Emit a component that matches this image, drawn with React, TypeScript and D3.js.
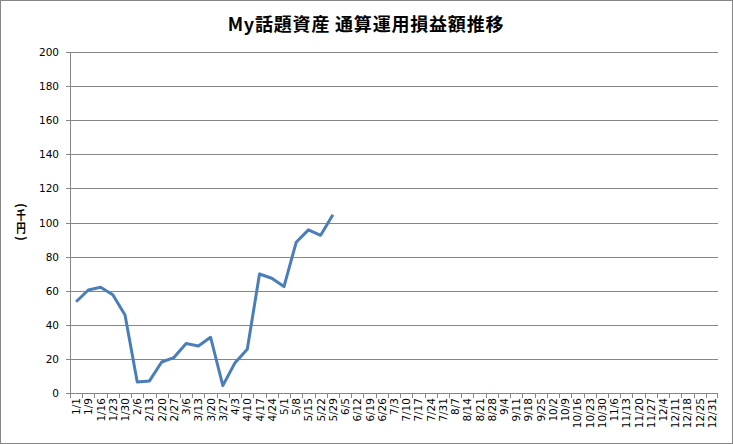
import React from "react";
import * as d3 from "d3";

const title = "My話題資産 通算運用損益額推移";
const yTitleChars = ["(", "千", "円", ")"];
const categories = [
  "1/1", "1/9", "1/16", "1/23", "1/30", "2/6", "2/13", "2/20", "2/27", "3/6", "3/13", "3/20", "3/27",
  "4/3", "4/10", "4/17", "4/24", "5/1", "5/8", "5/15", "5/22", "5/29", "6/5", "6/12", "6/19", "6/26",
  "7/3", "7/10", "7/17", "7/24", "7/31", "8/7", "8/14", "8/21", "8/28", "9/4", "9/11", "9/18", "9/25",
  "10/2", "10/9", "10/16", "10/23", "10/30", "11/6", "11/13", "11/20", "11/27", "12/4", "12/11",
  "12/18", "12/25", "12/31",
];
const values = [
  53.5, 60.4, 62, 57.6, 45.7, 6.5, 7.1, 18.2, 20.8, 29, 27.6, 32.7, 4.3,
  17.8, 25.7, 69.8, 67.3, 62.4, 88.4, 95.7, 92.5, 104.5,
];
const yTicks = [0, 20, 40, 60, 80, 100, 120, 140, 160, 180, 200];

const W = 733;
const H = 444;
const left = 70;
const right = 718;
const top = 52;
const bottom = 393;
const grid = "#868686";
const font = "'DejaVu Sans', Verdana, sans-serif";
const cjk = "'Noto Sans CJK JP', sans-serif";

function YTitle({ tcx }: { tcx: number }) {
  return (
    <g fontFamily={cjk} fontWeight="bold" fontSize={12} fill="#000">
      <text transform={`translate(${tcx},205.5) rotate(90)`} textAnchor="middle" dy="0.35em">
        {yTitleChars[0]}
      </text>
      <text transform={`translate(${tcx},220) scale(0.8,1)`} textAnchor="middle">
        {yTitleChars[1]}
      </text>
      <text transform={`translate(${tcx},232.5) scale(0.8,1)`} textAnchor="middle">
        {yTitleChars[2]}
      </text>
      <text transform={`translate(${tcx},238.5) rotate(90)`} textAnchor="middle" dy="0.35em">
        {yTitleChars[3]}
      </text>
    </g>
  );
}

export default function App() {
  const x = d3.scaleBand<string>().domain(categories).range([left, right]).padding(0);
  const y = d3.scaleLinear().domain([0, 200]).range([bottom, top]);
  const bw = x.bandwidth();
  const line = d3
    .line<number>()
    .x((_, i) => (x(categories[i]) as number) + bw / 2)
    .y((d) => y(d));

  return (
    <div style={{ position: "absolute", left: 0, top: 0 }}>
      <svg width={W} height={H} style={{ display: "block", background: "#fff" }}>
        <rect x={0.5} y={0.5} width={W - 1} height={H - 1} fill="#fff" stroke={grid} strokeWidth={1} />
        <text
          x={366}
          y={31}
          textAnchor="middle"
          fontFamily={cjk}
          fontWeight="bold"
          fontSize={18}
          letterSpacing={0.8}
        >
          {title}
        </text>
        {yTicks.map((t) => (
          <g key={t}>
            {t > 0 && (
              <line x1={left} x2={right} y1={Math.round(y(t)) + 0.5} y2={Math.round(y(t)) + 0.5} stroke={grid} />
            )}
            <line x1={left - 4} x2={left} y1={Math.round(y(t)) + 0.5} y2={Math.round(y(t)) + 0.5} stroke={grid} />
            <text x={59} y={y(t) + 4} textAnchor="end" fontFamily={font} fontSize={10.5} fill="#000">
              {t}
            </text>
          </g>
        ))}
        <line x1={left + 0.5} x2={left + 0.5} y1={top} y2={bottom} stroke={grid} />
        <line x1={left} x2={right} y1={bottom + 0.5} y2={bottom + 0.5} stroke={grid} />
        {categories.map((c, i) => (
          <line
            key={"t" + c}
            x1={Math.round(left + i * bw) + 0.5}
            x2={Math.round(left + i * bw) + 0.5}
            y1={bottom}
            y2={bottom + 5}
            stroke={grid}
          />
        ))}
        <line x1={right - 0.5} x2={right - 0.5} y1={bottom} y2={bottom + 5} stroke={grid} />
        {categories.map((c) => {
          const cx = (x(c) as number) + bw / 2;
          return (
            <text
              key={c}
              transform={`translate(${cx + 4},${bottom + 5}) rotate(-90)`}
              textAnchor="end"
              fontFamily={font}
              fontSize={10.5}
              fill="#000"
            >
              {c}
            </text>
          );
        })}
        <path d={line(values) || ""} fill="none" stroke="#4A7EBB" strokeWidth={3} strokeLinejoin="round" />
        <YTitle tcx={21} />
      </svg>
    </div>
  );
}
